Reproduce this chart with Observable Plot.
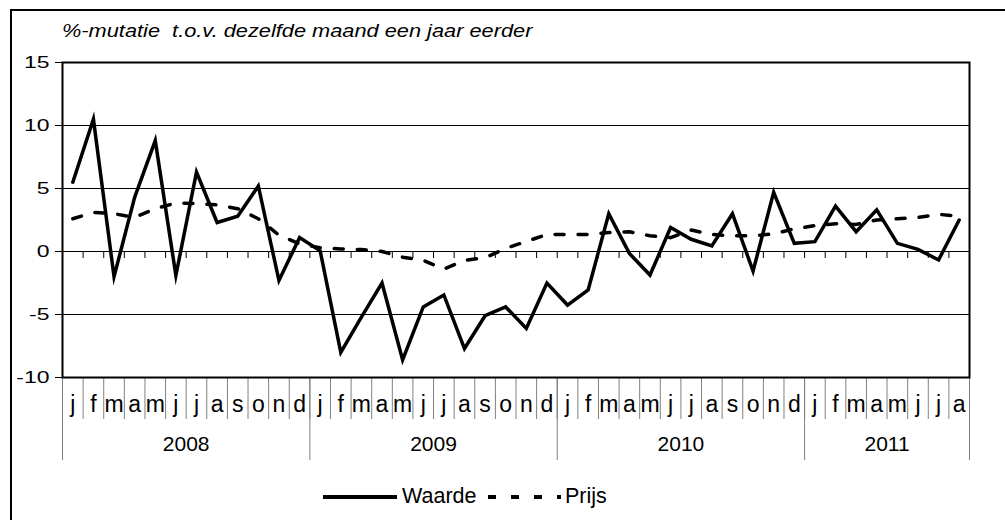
<!DOCTYPE html>
<html>
<head>
<meta charset="utf-8">
<script src="https://cdn.jsdelivr.net/npm/d3@7"></script>
<script src="https://cdn.jsdelivr.net/npm/@observablehq/plot@0.6"></script>
<style>
  html, body { margin: 0; padding: 0; background: #fff; }
  #wrap { position: relative; width: 1005px; height: 520px; overflow: hidden; background: #fff; }
  #wrap > svg { position: absolute; left: 0; top: 0; }
  #overlay { pointer-events: none; }
</style>
</head>
<body>
<div id="wrap"></div>
<script>
// ---- data ----
const monthLetters = ["j","f","m","a","m","j","j","a","s","o","n","d"];
const years = ["2008","2009","2010","2011"];
const monthsPerYear = [12, 12, 12, 8];
const yTicks = [-10, -5, 0, 5, 10, 15];
const gridValues = [-5, 0, 5, 10];
const titleText = "%-mutatie  t.o.v. dezelfde maand een jaar eerder";
const seriesNames = ["Waarde", "Prijs"];

const waarde = [
  5.5, 10.5, -2.0, 4.3, 8.8, -1.9, 6.3, 2.3, 2.8, 5.2, -2.3, 1.1,
  0.05, -8.0, -5.2, -2.5, -8.6, -4.4, -3.45, -7.7, -5.1, -4.4, -6.1, -2.5,
  -4.25, -3.05, 3.0, -0.15, -1.87, 1.9, 0.97, 0.44, 3.0, -1.55, 4.7, 0.65,
  0.78, 3.6, 1.57, 3.3, 0.65, 0.17, -0.67, 2.5
];
const prijs = [
  2.6, 3.1, 3.0, 2.7, 3.4, 3.85, 3.8, 3.7, 3.4, 2.6, 1.3, 0.6,
  0.3, 0.2, 0.15, 0.0, -0.45, -0.7, -1.4, -0.7, -0.5, 0.25, 0.8, 1.35,
  1.35, 1.35, 1.5, 1.57, 1.25, 1.1, 1.7, 1.35, 1.25, 1.25, 1.4, 1.8,
  2.05, 2.2, 2.15, 2.5, 2.6, 2.7, 2.95, 2.8
];

// ---- derived tables ----
const rows = waarde.map((w, i) => ({ i, waarde: w, prijs: prijs[i], month: monthLetters[i % 12] }));
const nMonths = rows.length;
let acc = 0;
const yearRows = years.map((y, k) => {
  const start = acc; acc += monthsPerYear[k];
  return { year: y, start, end: acc, center: (start + acc) / 2 };
});
const yearBounds = [0, ...yearRows.map(d => d.end)];
const monthBounds = d3.range(0, nMonths + 1);
const innerBounds = d3.range(1, nMonths);

// ---- layout ----
const W = 1005, H = 520;
const mTop = 62, mBottom = 143, mLeft = 62, mRight = 36;
const plotH = H - mTop - mBottom;
const FONT = "'Liberation Sans', Arial, Helvetica, sans-serif";

const chart = Plot.plot({
  width: W, height: H,
  marginTop: mTop, marginBottom: mBottom, marginLeft: mLeft, marginRight: mRight,
  style: { fontFamily: FONT, background: "transparent", color: "black" },
  x: { type: "linear", domain: [0, nMonths], axis: null },
  y: { domain: [-10, 15], axis: null },
  marks: [
    Plot.ruleY(gridValues, { stroke: "black", strokeWidth: 1 }),
    // small ticks hanging below the zero line at month boundaries
    Plot.ruleX(innerBounds, { x: d => d, y1: () => 0, y2: () => 0, insetBottom: -7, stroke: "black", strokeWidth: 1 }),
    // category separators below the plot
    Plot.ruleX(monthBounds, { x: d => d, insetTop: plotH, insetBottom: -42, stroke: "#808080", strokeWidth: 1 }),
    Plot.ruleX(yearBounds, { x: d => d, insetTop: plotH, insetBottom: -83, stroke: "#808080", strokeWidth: 1 }),
    Plot.line(rows, { x: d => d.i + 0.5, y: "prijs", stroke: "black", strokeWidth: 3.5, strokeDasharray: "9,14" }),
    Plot.line(rows, { x: d => d.i + 0.5, y: "waarde", stroke: "black", strokeWidth: 3.5, strokeLinejoin: "miter", strokeMiterlimit: 10 }),
    Plot.frame({ stroke: "black", strokeWidth: 2 }),
    Plot.axisY(yTicks, { tickSize: 7, tickPadding: 6, fontSize: 17, tickFormat: d => String(d), label: null }),
    Plot.text(rows, { x: d => d.i + 0.5, text: "month", frameAnchor: "bottom", lineAnchor: "bottom", dy: 34, fontSize: 23, fill: "black" }),
    Plot.text(yearRows, { x: "center", text: "year", frameAnchor: "bottom", lineAnchor: "bottom", dy: 73.5, fontSize: 21, fill: "black" })
  ]
});

const wrap = document.getElementById("wrap");
wrap.appendChild(chart);

// widen the y tick labels like the original
chart.querySelectorAll('g[aria-label="y-axis tick label"] text').forEach(t => {
  const L = t.getComputedTextLength();
  t.setAttribute("textLength", (L * 1.35).toFixed(1));
  t.setAttribute("lengthAdjust", "spacingAndGlyphs");
});

// ---- overlay: outer border, title, legend ----
const NS = "http://www.w3.org/2000/svg";
const ov = document.createElementNS(NS, "svg");
ov.setAttribute("id", "overlay");
ov.setAttribute("width", W); ov.setAttribute("height", H);
ov.setAttribute("font-family", FONT);
ov.innerHTML = `
  <path d="M11,${H + 5} V10 H${W + 5}" fill="none" stroke="black" stroke-width="2"/>
  <text transform="translate(62,36.5) scale(1.19,1)" font-size="18.3" font-style="italic" style="white-space:pre" fill="black">${titleText}</text>
  <line x1="323" x2="397" y1="497" y2="497" stroke="black" stroke-width="4"/>
  <text x="402" y="503" font-size="21.5" fill="black">${seriesNames[0]}</text>
  <line x1="488" x2="561" y1="497" y2="497" stroke="black" stroke-width="4" stroke-dasharray="8,15"/>
  <text x="565" y="503" font-size="21.5" fill="black">${seriesNames[1]}</text>
`;
wrap.appendChild(ov);
</script>
</body>
</html>
